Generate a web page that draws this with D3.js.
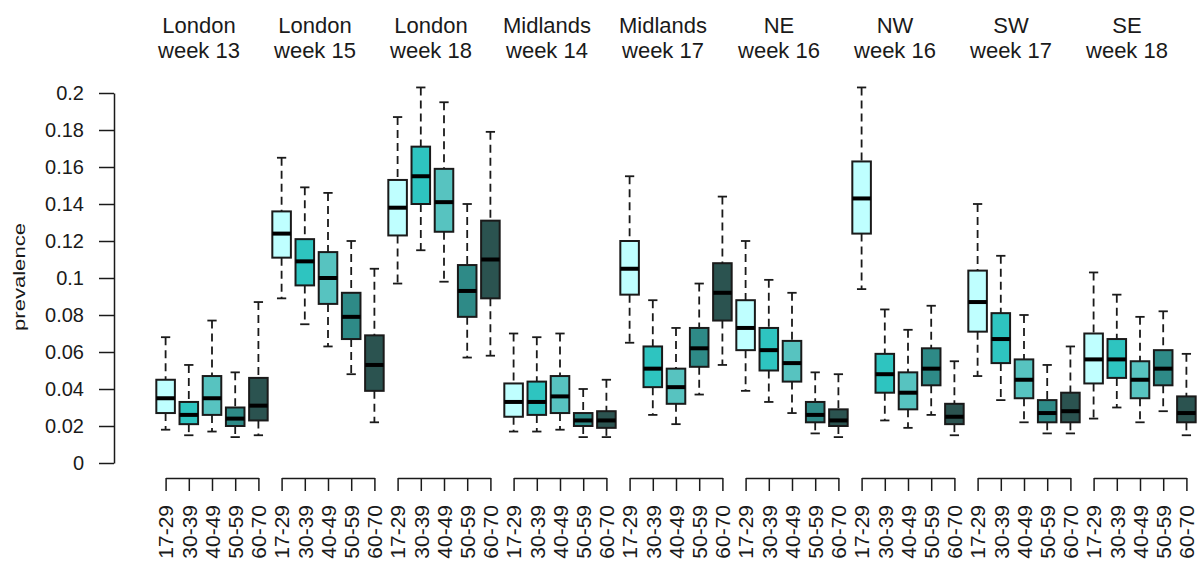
<!DOCTYPE html>
<html>
<head>
<meta charset="utf-8">
<script src="https://cdn.jsdelivr.net/npm/d3@7"></script>
<style>
  body { margin: 0; background: #fff; }
  svg text { font-family: "Liberation Sans", Arial, sans-serif; fill: #1a1a1a; }
</style>
</head>
<body>
<svg id="chart" width="1200" height="563"></svg>
<script>
// groups and age bands
const regions = ["London", "London", "London", "Midlands", "Midlands", "NE", "NW", "SW", "SE"];
const weeks = ["week 13", "week 15", "week 18", "week 14", "week 17", "week 16", "week 16", "week 17", "week 18"];
const ages = ["17-29", "30-39", "40-49", "50-59", "60-70"];
const yTicks = [0, 0.02, 0.04, 0.06, 0.08, 0.1, 0.12, 0.14, 0.16, 0.18, 0.2];

// box stats per group (one row per region/week, one value per age band)
const whiskerHigh = [
  [0.068, 0.053, 0.077, 0.049, 0.087],
  [0.165, 0.149, 0.146, 0.120, 0.105],
  [0.187, 0.203, 0.195, 0.140, 0.179],
  [0.070, 0.068, 0.070, 0.040, 0.045],
  [0.155, 0.088, 0.073, 0.097, 0.144],
  [0.120, 0.099, 0.092, 0.049, 0.048],
  [0.203, 0.083, 0.072, 0.085, 0.055],
  [0.140, 0.112, 0.080, 0.053, 0.063],
  [0.103, 0.091, 0.079, 0.082, 0.059]
];
const q3 = [
  [0.045, 0.033, 0.047, 0.030, 0.046],
  [0.136, 0.121, 0.114, 0.092, 0.069],
  [0.153, 0.171, 0.159, 0.107, 0.131],
  [0.043, 0.044, 0.047, 0.027, 0.028],
  [0.120, 0.063, 0.051, 0.073, 0.108],
  [0.088, 0.073, 0.066, 0.033, 0.029],
  [0.163, 0.059, 0.049, 0.062, 0.032],
  [0.104, 0.081, 0.056, 0.034, 0.038],
  [0.070, 0.067, 0.055, 0.061, 0.036]
];
const median = [
  [0.035, 0.026, 0.035, 0.024, 0.031],
  [0.124, 0.109, 0.100, 0.079, 0.053],
  [0.138, 0.155, 0.141, 0.093, 0.110],
  [0.033, 0.033, 0.036, 0.023, 0.023],
  [0.105, 0.051, 0.041, 0.062, 0.092],
  [0.073, 0.061, 0.054, 0.026, 0.023],
  [0.143, 0.048, 0.038, 0.051, 0.025],
  [0.087, 0.067, 0.045, 0.027, 0.028],
  [0.056, 0.056, 0.045, 0.051, 0.027]
];
const q1 = [
  [0.027, 0.021, 0.026, 0.020, 0.023],
  [0.111, 0.096, 0.086, 0.067, 0.039],
  [0.123, 0.140, 0.125, 0.079, 0.089],
  [0.025, 0.026, 0.027, 0.020, 0.019],
  [0.091, 0.041, 0.032, 0.052, 0.077],
  [0.061, 0.050, 0.044, 0.022, 0.020],
  [0.124, 0.038, 0.029, 0.042, 0.021],
  [0.071, 0.054, 0.035, 0.022, 0.022],
  [0.043, 0.046, 0.035, 0.042, 0.022]
];
const whiskerLow = [
  [0.018, 0.015, 0.017, 0.014, 0.015],
  [0.089, 0.075, 0.063, 0.048, 0.022],
  [0.097, 0.115, 0.098, 0.057, 0.058],
  [0.017, 0.017, 0.018, 0.014, 0.014],
  [0.065, 0.026, 0.021, 0.037, 0.053],
  [0.039, 0.033, 0.027, 0.016, 0.014],
  [0.094, 0.023, 0.019, 0.026, 0.015],
  [0.047, 0.034, 0.022, 0.016, 0.016],
  [0.024, 0.030, 0.022, 0.028, 0.015]
];

const colors = ["#BFFFFF", "#2EC4C0", "#57C3C0", "#2E8A87", "#2B5350"];

// flatten into one row per box
const boxes = [];
regions.forEach((r, g) => {
  ages.forEach((a, i) => {
    boxes.push({
      key: g + "_" + a, group: g, age: a, idx: i,
      lo: whiskerLow[g][i], q1: q1[g][i], med: median[g][i], q3: q3[g][i], hi: whiskerHigh[g][i]
    });
  });
});

const svg = d3.select("#chart");

const x = d3.scaleBand()
  .domain(boxes.map(d => d.key))
  .range([154, 1198])
  .padding(0);
const y = d3.scaleLinear().domain([0, 0.2]).range([463, 93]);

const bw = x.step() * 0.8;
const cx = d => x(d.key) + x.step() / 2;

// y axis
const yAxis = svg.append("g")
  .attr("transform", "translate(114,0)")
  .call(d3.axisLeft(y).tickValues(yTicks).tickSize(15).tickSizeOuter(0).tickPadding(15)
    .tickFormat(d => String(+d.toFixed(2))));
yAxis.selectAll("path, line").attr("stroke", "#1a1a1a").attr("stroke-width", 1.5);
yAxis.selectAll("text").style("font-size", "20px").attr("fill", "#1a1a1a");

svg.append("text")
  .attr("transform", "translate(25,277) rotate(-90)")
  .attr("text-anchor", "middle")
  .attr("textLength", 108)
  .attr("lengthAdjust", "spacingAndGlyphs")
  .style("font-size", "17px")
  .text("prevalence");

// boxes
const b = svg.append("g").selectAll("g")
  .data(boxes)
  .enter().append("g");

// whiskers
b.append("line")
  .attr("x1", cx).attr("x2", cx)
  .attr("y1", d => y(d.hi)).attr("y2", d => y(d.q3))
  .attr("stroke", "#1a1a1a").attr("stroke-width", 1.8).attr("stroke-dasharray", "8,5");
b.append("line")
  .attr("x1", cx).attr("x2", cx)
  .attr("y1", d => y(d.q1)).attr("y2", d => y(d.lo))
  .attr("stroke", "#1a1a1a").attr("stroke-width", 1.8).attr("stroke-dasharray", "8,5");
b.append("line")
  .attr("x1", d => cx(d) - bw / 4).attr("x2", d => cx(d) + bw / 4)
  .attr("y1", d => y(d.hi)).attr("y2", d => y(d.hi))
  .attr("stroke", "#1a1a1a").attr("stroke-width", 1.8);
b.append("line")
  .attr("x1", d => cx(d) - bw / 4).attr("x2", d => cx(d) + bw / 4)
  .attr("y1", d => y(d.lo)).attr("y2", d => y(d.lo))
  .attr("stroke", "#1a1a1a").attr("stroke-width", 1.8);

b.append("rect")
  .attr("x", d => cx(d) - bw / 2)
  .attr("width", bw)
  .attr("y", d => y(d.q3))
  .attr("height", d => y(d.q1) - y(d.q3))
  .attr("fill", d => colors[d.idx])
  .attr("stroke", "#1a1a1a").attr("stroke-width", 2);

b.append("line")
  .attr("x1", d => cx(d) - bw / 2).attr("x2", d => cx(d) + bw / 2)
  .attr("y1", d => y(d.med)).attr("y2", d => y(d.med))
  .attr("stroke", "#000").attr("stroke-width", 4);

// per-group bottom axes and titles
regions.forEach((r, g) => {
  const grp = boxes.filter(d => d.group === g);
  const x0 = cx(grp[0]), x1 = cx(grp[grp.length - 1]);
  const px = d3.scalePoint().domain(ages).range([x0, x1]);
  const ax = svg.append("g")
    .attr("transform", "translate(0,478)")
    .call(d3.axisBottom(px).tickSize(13).tickSizeOuter(0));
  ax.selectAll("path, line").attr("stroke", "#1a1a1a").attr("stroke-width", 1.5);
  ax.selectAll("text")
    .attr("transform", "rotate(-90)")
    .attr("text-anchor", "end")
    .attr("x", -27).attr("y", 0).attr("dy", "0.35em")
    .attr("fill", "#1a1a1a")
    .style("font-size", "21px");

  const tx = (x0 + x1) / 2 - 13;
  svg.append("text").attr("x", tx).attr("y", 33).attr("text-anchor", "middle")
    .style("font-size", "22px").text(r);
  svg.append("text").attr("x", tx).attr("y", 58).attr("text-anchor", "middle")
    .style("font-size", "22px").text(weeks[g]);
});
</script>
</body>
</html>
